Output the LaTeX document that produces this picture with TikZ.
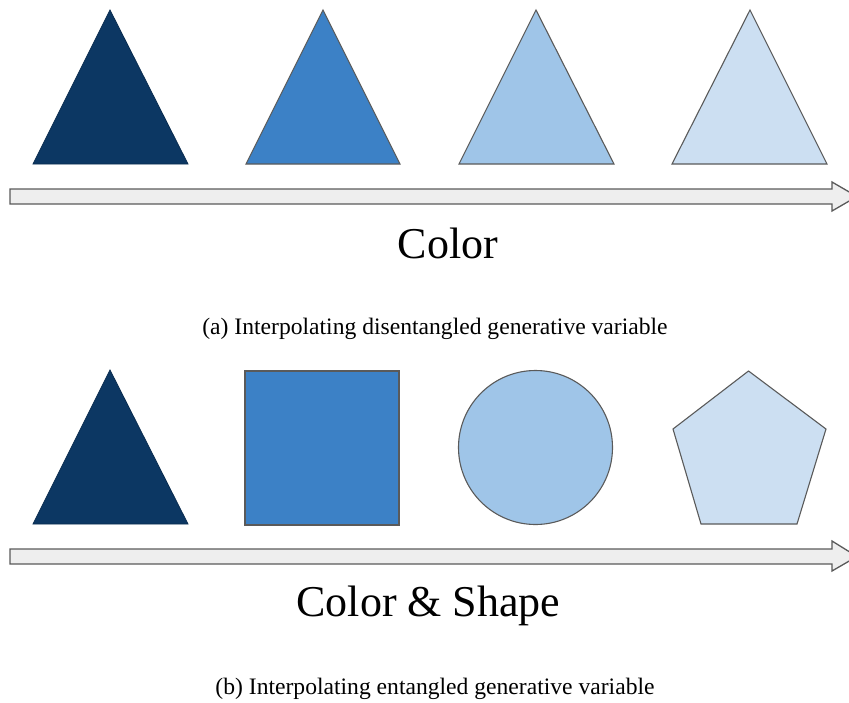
\documentclass[tikz,border=0pt]{standalone}
\usepackage{fontspec}
\setmainfont{Liberation Serif}
\definecolor{cA}{HTML}{0C3763}
\definecolor{cB}{HTML}{3C81C6}
\definecolor{cC}{HTML}{9FC5E8}
\definecolor{cD}{HTML}{CCDFF2}
\definecolor{edge}{HTML}{5A5A5A}
\definecolor{arrowfill}{HTML}{EEEEEE}
\begin{document}
\begin{tikzpicture}[x=1pt,y=-1pt,
  shp/.style={draw=edge,line width=1.1pt,line join=miter},
  bigarrow/.style={draw=edge,fill=arrowfill,line width=1.3pt,line join=miter},
  titletext/.style={anchor=base,font=\fontsize{44}{50}\selectfont,inner sep=0pt},
  captiontext/.style={anchor=base,font=\fontsize{23.6}{28}\selectfont,inner sep=0pt}]
\useasboundingbox (0,0) rectangle (849,702);
\clip (0,0) rectangle (849,702);
% panel (a)
\fill[cA,draw=cA!80!black,line width=0.8pt] (110,10) -- (188,164) -- (33,164) -- cycle;
\filldraw[shp,fill=cB] (323,10) -- (400,164) -- (246,164) -- cycle;
\filldraw[shp,fill=cC] (536,10) -- (614,164) -- (459,164) -- cycle;
\filldraw[shp,fill=cD] (750,10) -- (827,164) -- (672,164) -- cycle;
\draw[bigarrow] (10,189) -- (832,189) -- (832,182) -- (857,196.5) -- (832,211) -- (832,204) -- (10,204) -- cycle;
\node[titletext] (ta) at (448,258) {Color};
\node[captiontext] (ca) at (435,334) {(a) Interpolating disentangled generative variable};
% panel (b)
\fill[cA,draw=cA!80!black,line width=0.8pt] (110,370) -- (188,524) -- (33,524) -- cycle;
\filldraw[shp,fill=cB] (245,371) rectangle (399,525);
\filldraw[shp,fill=cC] (535.5,447.5) circle (77);
\filldraw[shp,fill=cD] (748.5,371) -- (826,429) -- (797,524) -- (701,524) -- (673,429) -- cycle;
\draw[bigarrow] (10,549) -- (832,549) -- (832,541) -- (857,556.5) -- (832,571) -- (832,564) -- (10,564) -- cycle;
\node[titletext] (tb) at (428.5,616) {Color \& Shape};
\node[captiontext] (cb) at (435,694) {(b) Interpolating entangled generative variable};
\end{tikzpicture}
\end{document}
